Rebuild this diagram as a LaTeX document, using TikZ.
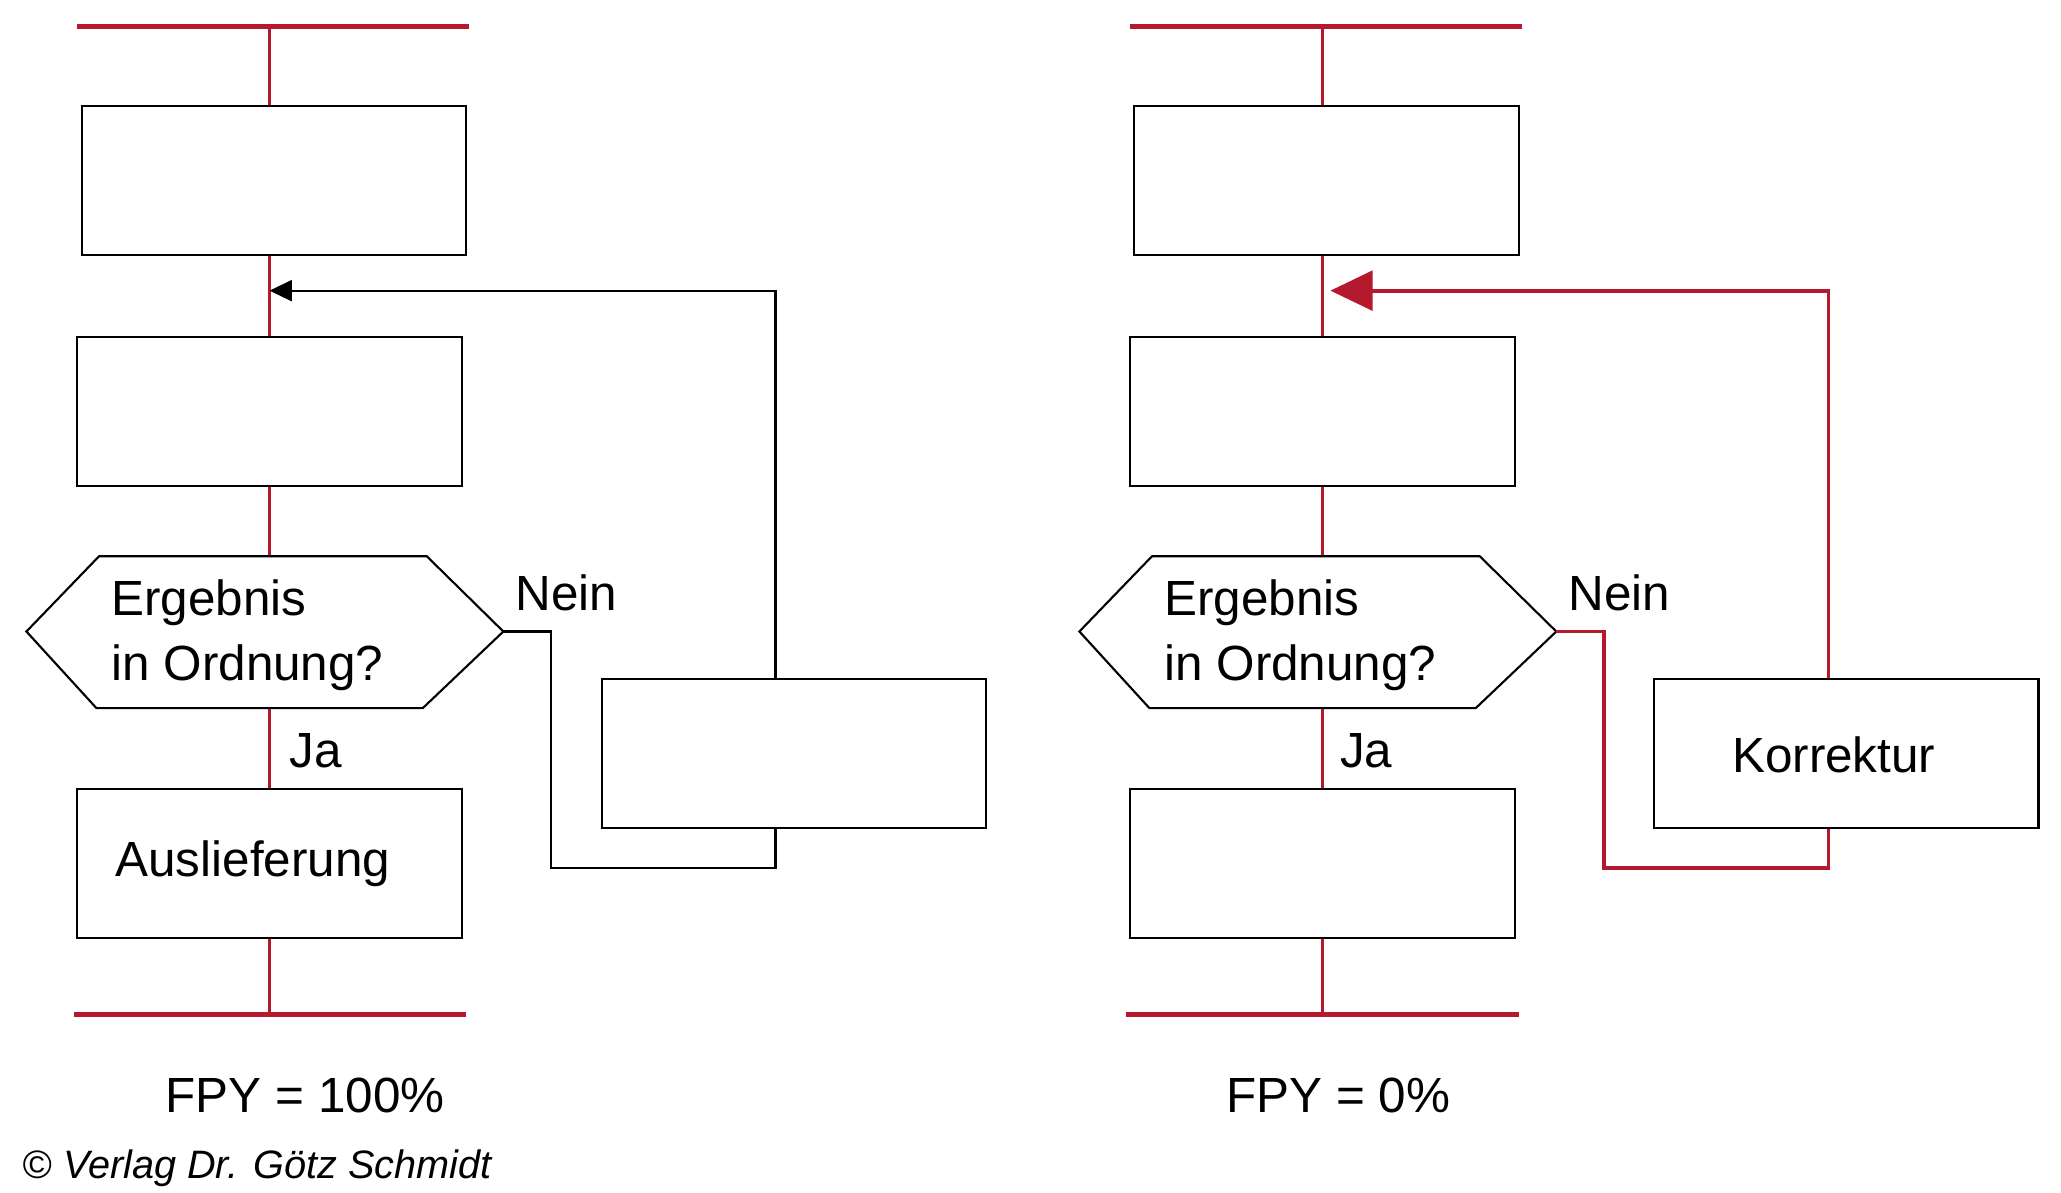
\documentclass[tikz,border=0pt]{standalone}
\usepackage{fontspec}
\setmainfont{Liberation Sans}
\usetikzlibrary{arrows.meta}
\definecolor{fred}{RGB}{180,25,45}
\begin{document}
\begin{tikzpicture}[x=0.5pt,y=-0.5pt,
  box/.style={draw=black,line width=0.8pt,minimum width=145.5pt,minimum height=56.5pt,inner sep=0pt,fill=white},
  rline/.style={draw=fred,line width=1.3pt},
  rbar/.style={draw=fred,line width=2pt},
  hexa/.style={draw=black,line width=0.8pt,fill=white},
  lbl/.style={font=\fontsize{18.7}{24.5}\selectfont,inner sep=0pt},
  fbblack/.style={draw=black,line width=0.8pt},
  fbred/.style={draw=fred,line width=1.5pt}]
\useasboundingbox (0,0) rectangle (1560,903);
% ---------------- left diagram ----------------
\coordinate (tbL1) at (58,20); \coordinate (tbL2) at (355,20);
\coordinate (tL) at (204,20);
\node[box] (b1L) at (207.5,136.5) {};
\node[box] (b2L) at (204,311.5) {};
\coordinate (hL1) at (20,478); \coordinate (hL2) at (75,421); \coordinate (hL3) at (323,421);
\coordinate (hL4) at (381,478); \coordinate (hL5) at (320,536); \coordinate (hL6) at (73,536);
\node[box] (b3L) at (204,653.5) {};
\node[box] (rbL) at (601,570.5) {};
\coordinate (bbL1) at (56,768); \coordinate (bbL2) at (353,768); \coordinate (bL) at (204,768);
\draw[rbar] (tbL1) -- (tbL2);
\draw[rline] (tL) -- (tL |- b1L.north);
\draw[rline] (tL |- b1L.south) -- (tL |- b2L.north);
\draw[rline] (tL |- b2L.south) -- (tL |- hL2);
\draw[rline] (tL |- hL6) -- (tL |- b3L.north);
\draw[rline] (tL |- b3L.south) -- (bL);
\draw[rbar] (bbL1) -- (bbL2);
\draw[hexa] (hL1) -- (hL2) -- (hL3) -- (hL4) -- (hL5) -- (hL6) -- cycle;
\coordinate (fL) at (587,220); \coordinate (aL) at (204,220);
\draw[fbblack,-{Triangle[length=8.5pt,width=8pt]}] (rbL.north -| fL) -- (fL) -- (aL);
\coordinate (nL1) at (417,478); \coordinate (nL2) at (417,657);
\draw[fbblack] (hL4) -- (nL1) -- (nL2) -- (nL2 -| fL) -- (rbL.south -| fL);
\node[lbl,anchor=west,align=left] (qL) at (84,481) {Ergebnis\\in Ordnung?};
\node[lbl,anchor=base west] (neinL) at (390,462) {Nein};
\node[lbl,anchor=base west] (jaL) at (219,581) {Ja};
\node[lbl,anchor=west] (ausL) at (87,654) {Auslieferung};
\node[lbl,anchor=base west] (fpyL) at (125,842) {FPY = 100\%};
\node[font=\fontsize{15}{18}\selectfont\itshape,inner sep=0pt,anchor=base west] (copy) at (17,892) {© Verlag Dr. Götz Schmidt};
% ---------------- right diagram ----------------
\coordinate (tbR1) at (855,20); \coordinate (tbR2) at (1152,20);
\coordinate (tR) at (1001,20);
\node[box] (b1R) at (1004,136.5) {};
\node[box] (b2R) at (1001,311.5) {};
\coordinate (hR1) at (817,478); \coordinate (hR2) at (872,421); \coordinate (hR3) at (1120,421);
\coordinate (hR4) at (1178,478); \coordinate (hR5) at (1117,536); \coordinate (hR6) at (870,536);
\node[box] (b3R) at (1001,653.5) {};
\node[box] (kR) at (1397.5,570.5) {};
\coordinate (bbR1) at (852,768); \coordinate (bbR2) at (1150,768); \coordinate (bR) at (1001,768);
\draw[rbar] (tbR1) -- (tbR2);
\draw[rline] (tR) -- (tR |- b1R.north);
\draw[rline] (tR |- b1R.south) -- (tR |- b2R.north);
\draw[rline] (tR |- b2R.south) -- (tR |- hR2);
\draw[rline] (tR |- hR6) -- (tR |- b3R.north);
\draw[rline] (tR |- b3R.south) -- (bR);
\draw[rbar] (bbR1) -- (bbR2);
\draw[hexa] (hR1) -- (hR2) -- (hR3) -- (hR4) -- (hR5) -- (hR6) -- cycle;
\coordinate (fR) at (1384,220); \coordinate (aR) at (1007,220);
\draw[fbred,-{Triangle[length=16pt,width=15pt]}] (kR.north -| fR) -- (fR) -- (aR);
\coordinate (nR1) at (1214,478); \coordinate (nR2) at (1214,657);
\draw[fbred] (hR4) -- (nR1) -- (nR2) -- (nR2 -| fR) -- (kR.south -| fR);
\node[lbl,anchor=west,align=left] (qR) at (881,481) {Ergebnis\\in Ordnung?};
\node[lbl,anchor=base west] (neinR) at (1187,462) {Nein};
\node[lbl,anchor=base west] (jaR) at (1014,581) {Ja};
\node[lbl] (korr) at (1388,571) {Korrektur};
\node[lbl,anchor=base west] (fpyR) at (928,842) {FPY = 0\%};
\end{tikzpicture}
\end{document}
